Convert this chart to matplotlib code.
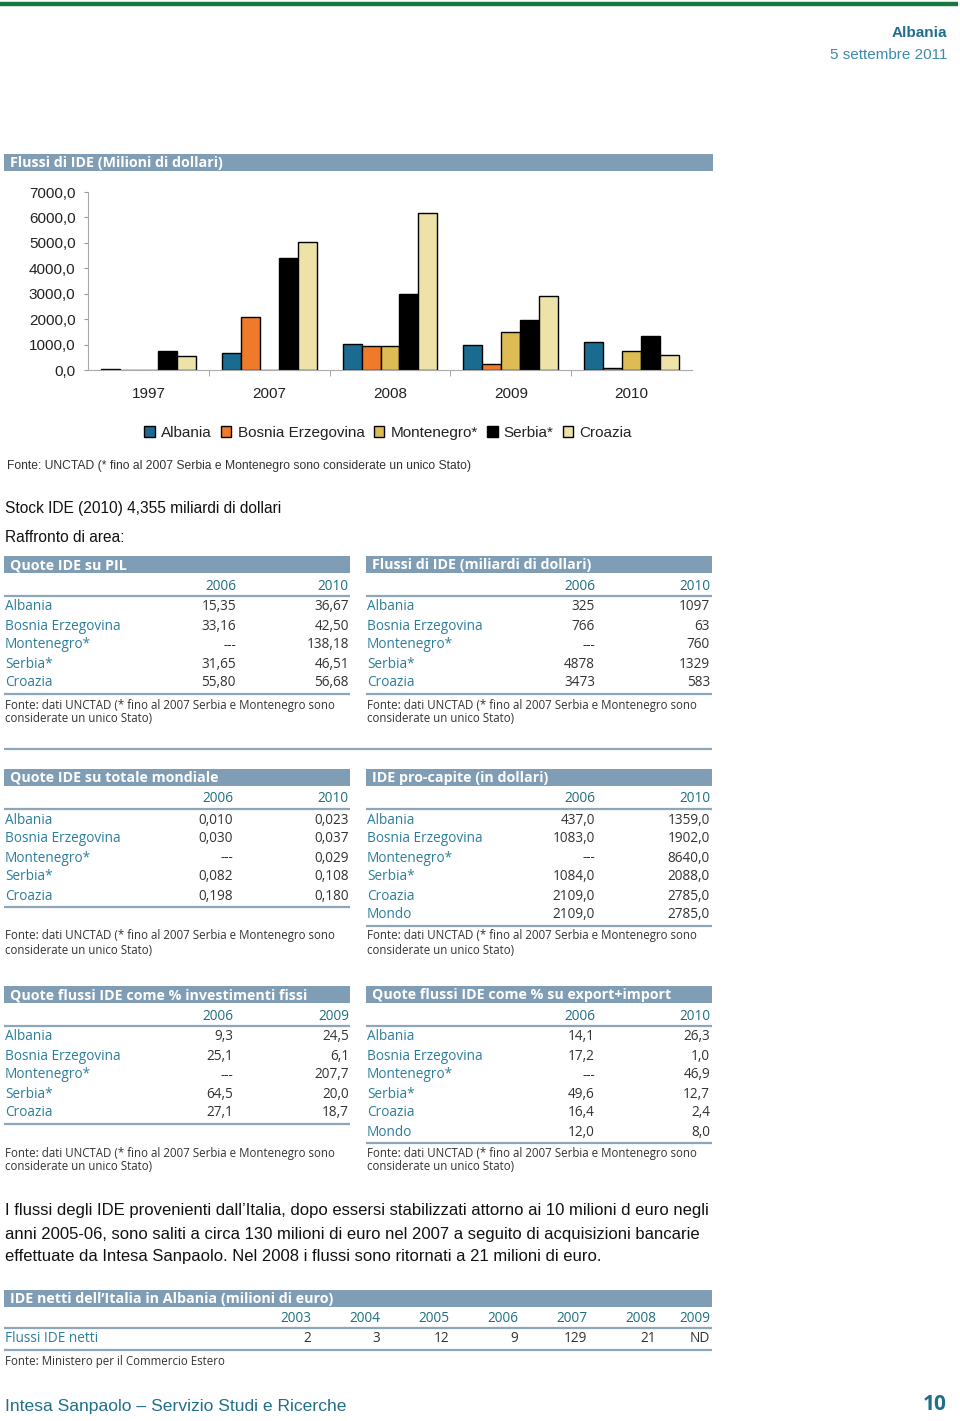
import matplotlib
matplotlib.use("Agg")
import matplotlib.pyplot as plt
import numpy as np
from matplotlib.patches import Rectangle

# ---- data -------------------------------------------------------------
chart_years = ["1997", "2007", "2008", "2009", "2010"]
series_names = ["Albania", "Bosnia Erzegovina", "Montenegro*", "Serbia*", "Croazia"]
fdi_albania = [48, 680, 1010, 970, 1100]
fdi_bosnia = [0, 2070, 950, 250, 63]
fdi_montenegro = [0, 0, 950, 1500, 760]
fdi_serbia = [740, 4400, 2980, 1960, 1330]
fdi_croazia = [550, 5050, 6170, 2900, 580]
chart_ticks = [0, 1000, 2000, 3000, 4000, 5000, 6000, 7000]

countries5 = ["Albania", "Bosnia Erzegovina", "Montenegro*", "Serbia*", "Croazia"]
countries6 = countries5 + ["Mondo"]

pil_2006 = ["15,35", "33,16", "---", "31,65", "55,80"]
pil_2010 = ["36,67", "42,50", "138,18", "46,51", "56,68"]

flussi_2006 = ["325", "766", "---", "4878", "3473"]
flussi_2010 = ["1097", "63", "760", "1329", "583"]

mondiale_2006 = ["0,010", "0,030", "---", "0,082", "0,198"]
mondiale_2010 = ["0,023", "0,037", "0,029", "0,108", "0,180"]

procapite_2006 = ["437,0", "1083,0", "---", "1084,0", "2109,0", "2109,0"]
procapite_2010 = ["1359,0", "1902,0", "8640,0", "2088,0", "2785,0", "2785,0"]

invfissi_2006 = ["9,3", "25,1", "---", "64,5", "27,1"]
invfissi_2009 = ["24,5", "6,1", "207,7", "20,0", "18,7"]

expimp_2006 = ["14,1", "17,2", "---", "49,6", "16,4", "12,0"]
expimp_2010 = ["26,3", "1,0", "46,9", "12,7", "2,4", "8,0"]

italia_years = ["2003", "2004", "2005", "2006", "2007", "2008", "2009"]
italia_flussi = ["2", "3", "12", "9", "129", "21", "ND"]

paragraph_lines = [
    "I flussi degli IDE provenienti dall’Italia, dopo essersi stabilizzati attorno ai 10 milioni d euro negli",
    "anni 2005-06, sono saliti a circa 130 milioni di euro nel 2007 a seguito di acquisizioni bancarie",
    "effettuate da Intesa Sanpaolo. Nel 2008 i flussi sono ritornati a 21 milioni di euro.",
]

# ---- styling ------------------------------------------------------------
COND = ["Liberation Sans", "DejaVu Sans"]
REG = ["Open Sans", "DejaVu Sans"]
TEAL = "#1f6f8b"
LABEL = "#2b7d9c"
YEAR = "#1d6e80"
VAL = "#333333"
BAR = "#7f9db5"
RULE = "#8ea6ba"
colors = ["#1b6a8f", "#ef7a2a", "#ddbb55", "#000000", "#ede2a8"]

W, H = 960, 1421
fig = plt.figure(figsize=(W / 100, H / 100), dpi=100)
page = fig.add_axes([0, 0, 1, 1])
page.set_xlim(0, W)
page.set_ylim(H, 0)
page.axis("off")


def txt(x, y, s, size=9.8, color=VAL, ha="left", weight="normal", family=REG):
    return page.text(x, y, s, fontsize=size, color=color, ha=ha, va="center",
                     fontweight=weight, family=family)


def header(x0, x1, y0, y1, title):
    page.add_patch(Rectangle((x0, y0), x1 - x0, y1 - y0, color=BAR, lw=0))
    txt(x0 + 6, (y0 + y1) / 2 + 0.5, title, size=10.3, color="white", weight="bold")


def rule(x0, x1, y, lw=1.6):
    page.plot([x0, x1], [y, y], color=RULE, lw=lw, solid_capstyle="butt")


def table(x0, x1, ytop, title, years, rows, col_a, col_b, col_x, fonte_y):
    header(x0, x1, ytop, ytop + 17, title)
    yy = ytop + 30
    txt(col_x[0], yy, years[0], color=YEAR, ha="right")
    txt(col_x[1], yy, years[1], color=YEAR, ha="right")
    rule(x0, x1, yy + 10)
    for i, name in enumerate(rows):
        y = yy + 21 + 19 * i
        txt(x0 + 1, y, name, color=LABEL)
        txt(col_x[0], y, col_a[i], ha="right")
        txt(col_x[1], y, col_b[i], ha="right")
    rule(x0, x1, yy + 21 + 19 * (len(rows) - 1) + 11)
    txt(x0 + 1, fonte_y, "Fonte: dati UNCTAD (* fino al 2007 Serbia e Montenegro sono", size=8.3)
    txt(x0 + 1, fonte_y + 14, "considerate un unico Stato)", size=8.3)


# ---- page header ------------------------------------------------------------
page.plot([0, 958], [3.5, 3.5], color="#167a3e", lw=3.2, solid_capstyle="butt")
txt(947, 33, "Albania", size=11, color=TEAL, ha="right", weight="bold", family=COND)
txt(947, 55, "5 settembre 2011", size=11, color="#3d8aab", ha="right", family=COND)

# ---- bar chart ------------------------------------------------------------
header(4, 713, 154, 171, "Flussi di IDE (Milioni di dollari)")
ax = fig.add_axes([88 / W, 1 - 370 / H, (692 - 88) / W, (370 - 192) / H])
series = [fdi_albania, fdi_bosnia, fdi_montenegro, fdi_serbia, fdi_croazia]
x = np.arange(len(chart_years))
bw = 0.157
for k, (vals, col, name) in enumerate(zip(series, colors, series_names)):
    ax.bar(x + (k - 2) * bw, vals, bw, color=col, edgecolor="black", linewidth=1.0, label=name)
ax.set_xlim(-0.5, len(chart_years) - 0.5)
ax.set_ylim(0, 7000)
ax.set_yticks(chart_ticks)
ax.set_yticklabels([f"{v},0" for v in chart_ticks], family=COND, fontsize=11, color="#222222")
ax.set_xticks(x)
ax.set_xticklabels(chart_years, family=COND, fontsize=11, color="#222222")
ax.set_xticks(np.arange(0.5, len(chart_years) - 0.5, 1), minor=True)
ax.tick_params(axis="x", which="major", length=0, pad=12)
ax.tick_params(axis="x", which="minor", length=4, color="#999999")
ax.tick_params(axis="y", length=3, color="#999999", pad=6)
for s in ["top", "right"]:
    ax.spines[s].set_visible(False)
for s in ["left", "bottom"]:
    ax.spines[s].set_color("#aaaaaa")
ax.patch.set_alpha(0)

leg = fig.legend(*ax.get_legend_handles_labels(), loc="center", ncol=5,
                 bbox_to_anchor=(388 / W, 1 - 433 / H), frameon=False,
                 prop={"family": COND, "size": 11}, handlelength=0.7, handleheight=0.7,
                 handletextpad=0.4, columnspacing=0.6)
for t in leg.get_texts():
    t.set_color("#222222")

txt(7, 466, "Fonte: UNCTAD (* fino al 2007 Serbia e Montenegro sono considerate un unico Stato)",
    size=8.7, family=COND)
txt(5, 508, "Stock IDE (2010) 4,355 miliardi di dollari", size=11.2, color="#111111", family=COND)
txt(5, 538, "Raffronto di area:", size=11.2, color="#111111", family=COND)

# ---- tables ------------------------------------------------------------
table(4, 350, 556, "Quote IDE su PIL", ["2006", "2010"], countries5, pil_2006, pil_2010,
      [236, 349], 705)
table(366, 712, 556, "Flussi di IDE (miliardi di dollari)", ["2006", "2010"], countries5,
      flussi_2006, flussi_2010, [595, 710], 705)
rule(4, 712, 749)
table(4, 350, 769, "Quote IDE su totale mondiale", ["2006", "2010"], countries5,
      mondiale_2006, mondiale_2010, [233, 349], 936)
table(366, 712, 769, "IDE pro-capite (in dollari)", ["2006", "2010"], countries6,
      procapite_2006, procapite_2010, [595, 710], 936)
table(4, 350, 986, "Quote flussi IDE come % investimenti fissi", ["2006", "2009"], countries5,
      invfissi_2006, invfissi_2009, [233, 349], 1153)
table(366, 712, 986, "Quote flussi IDE come % su export+import", ["2006", "2010"], countries6,
      expimp_2006, expimp_2010, [595, 710], 1153)

# ---- paragraph ------------------------------------------------------------
for i, line in enumerate(paragraph_lines):
    txt(5, 1211 + 23 * i, line, size=12.0, color="#111111", family=COND)

# ---- Italian FDI table ---------------------------------------------------
header(4, 712, 1290, 1307, "IDE netti dell’Italia in Albania (milioni di euro)")
italia_x = [311, 380, 449, 518, 587, 656, 710]
for xx, yr, v in zip(italia_x, italia_years, italia_flussi):
    txt(xx, 1318, yr, color=YEAR, ha="right")
    txt(xx, 1339, v, ha="right")
txt(5, 1339, "Flussi IDE netti", color=LABEL)
rule(4, 712, 1328)
rule(4, 712, 1350)
txt(5, 1361, "Fonte: Ministero per il Commercio Estero", size=8.3)

# ---- footer ------------------------------------------------------------
txt(5, 1406, "Intesa Sanpaolo – Servizio Studi e Ricerche", size=12.6, color=TEAL, family=COND)
txt(947, 1405, "10", size=15, color=TEAL, ha="right", weight="bold")

fig.savefig("out.png", dpi=100)
